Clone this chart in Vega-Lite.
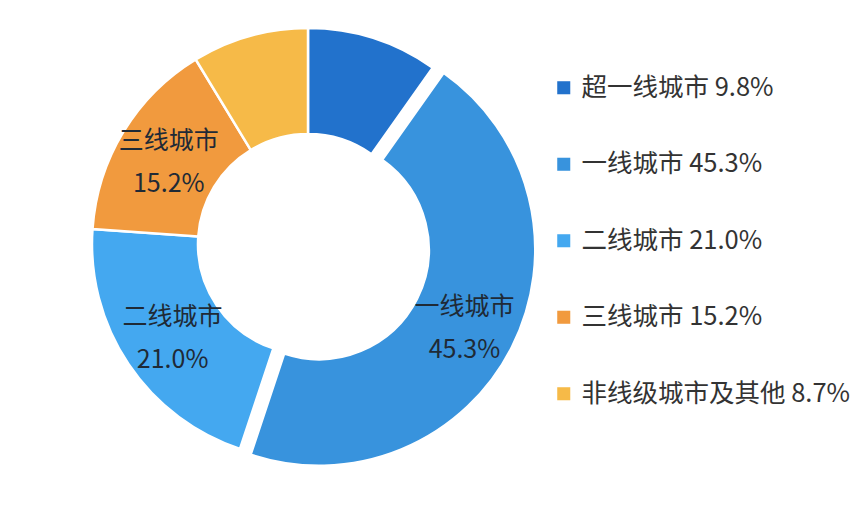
{
  "$schema": "https://vega.github.io/schema/vega-lite/v6.json",
  "width": 616,
  "height": 488,
  "autosize": {"type": "none"},
  "padding": {"left": 0, "top": 0, "right": 248, "bottom": 18},
  "background": "white",
  "config": {"view": {"stroke": null}, "font": "Noto Sans CJK SC"},
  "data": {
    "values": [
      {"city": "超一线城市", "share": 9.8, "rank": 1},
      {"city": "一线城市", "share": 45.3, "rank": 2},
      {"city": "二线城市", "share": 21.0, "rank": 3},
      {"city": "三线城市", "share": 15.2, "rank": 4},
      {"city": "非线级城市及其他", "share": 8.7, "rank": 5}
    ]
  },
  "transform": [
    {"stack": "share", "groupby": [], "sort": [{"field": "rank", "order": "ascending"}], "as": ["t0", "t1"]},
    {"calculate": "(datum.t0 + datum.t1) / 2", "as": "tmid"},
    {"calculate": "datum.city + ' ' + format(datum.share, '.1f') + '%'", "as": "legend"},
    {"calculate": "datum.city + '\\n' + format(datum.share, '.1f') + '%'", "as": "label"}
  ],
  "layer": [
    {
      "transform": [{"filter": "datum.city !== '一线城市'"}],
      "mark": {"type": "arc", "outerRadius": 216, "innerRadius": 110, "stroke": "white", "strokeWidth": 2.5},
      "encoding": {
        "theta": {"field": "t0", "type": "quantitative", "scale": {"domain": [0, 100]}},
        "theta2": {"field": "t1"},
        "color": {
          "field": "legend", "type": "nominal",
          "scale": {
            "domain": ["超一线城市 9.8%", "一线城市 45.3%", "二线城市 21.0%", "三线城市 15.2%", "非线级城市及其他 8.7%"],
            "range": ["#2272cc", "#3893dd", "#44a8f0", "#f19a3e", "#f6ba48"]
          },
          "legend": {
            "title": null,
            "orient": "none",
            "legendX": 551,
            "legendY": 75,
            "padding": 0,
            "symbolType": "square",
            "symbolSize": 170,
            "symbolStrokeWidth": 0,
            "labelFontSize": 25.5,
            "labelColor": "#333333",
            "labelFont": "Noto Sans CJK SC",
            "labelOffset": 5,
            "rowPadding": 49.5,
            "labelLimit": 400
          }
        }
      }
    },
    {
      "transform": [{"filter": "datum.city === '一线城市'"}],
      "mark": {"type": "arc", "outerRadius": 216, "innerRadius": 110, "stroke": "white", "strokeWidth": 2, "xOffset": 11, "yOffset": 5.5},
      "encoding": {
        "theta": {"field": "t0", "type": "quantitative", "scale": {"domain": [0, 100]}},
        "theta2": {"field": "t1"},
        "color": {"field": "legend", "type": "nominal"}
      }
    },
    {
      "transform": [{"filter": "datum.city === '二线城市' || datum.city === '三线城市'"}],
      "mark": {"type": "text", "radius": 163, "fontSize": 25, "lineBreak": "\n", "lineHeight": 43, "color": "#1f2a36", "align": "center", "baseline": "middle", "dy": -18},
      "encoding": {
        "theta": {"field": "tmid", "type": "quantitative", "scale": {"domain": [0, 100]}},
        "text": {"field": "label"}
      }
    },
    {
      "transform": [{"filter": "datum.city === '一线城市'"}],
      "mark": {"type": "text", "radius": 163, "fontSize": 25, "lineBreak": "\n", "lineHeight": 43, "color": "#1f2a36", "align": "center", "baseline": "middle", "dy": -16, "xOffset": 11, "yOffset": 5.5},
      "encoding": {
        "theta": {"field": "tmid", "type": "quantitative", "scale": {"domain": [0, 100]}},
        "text": {"field": "label"}
      }
    }
  ]
}
